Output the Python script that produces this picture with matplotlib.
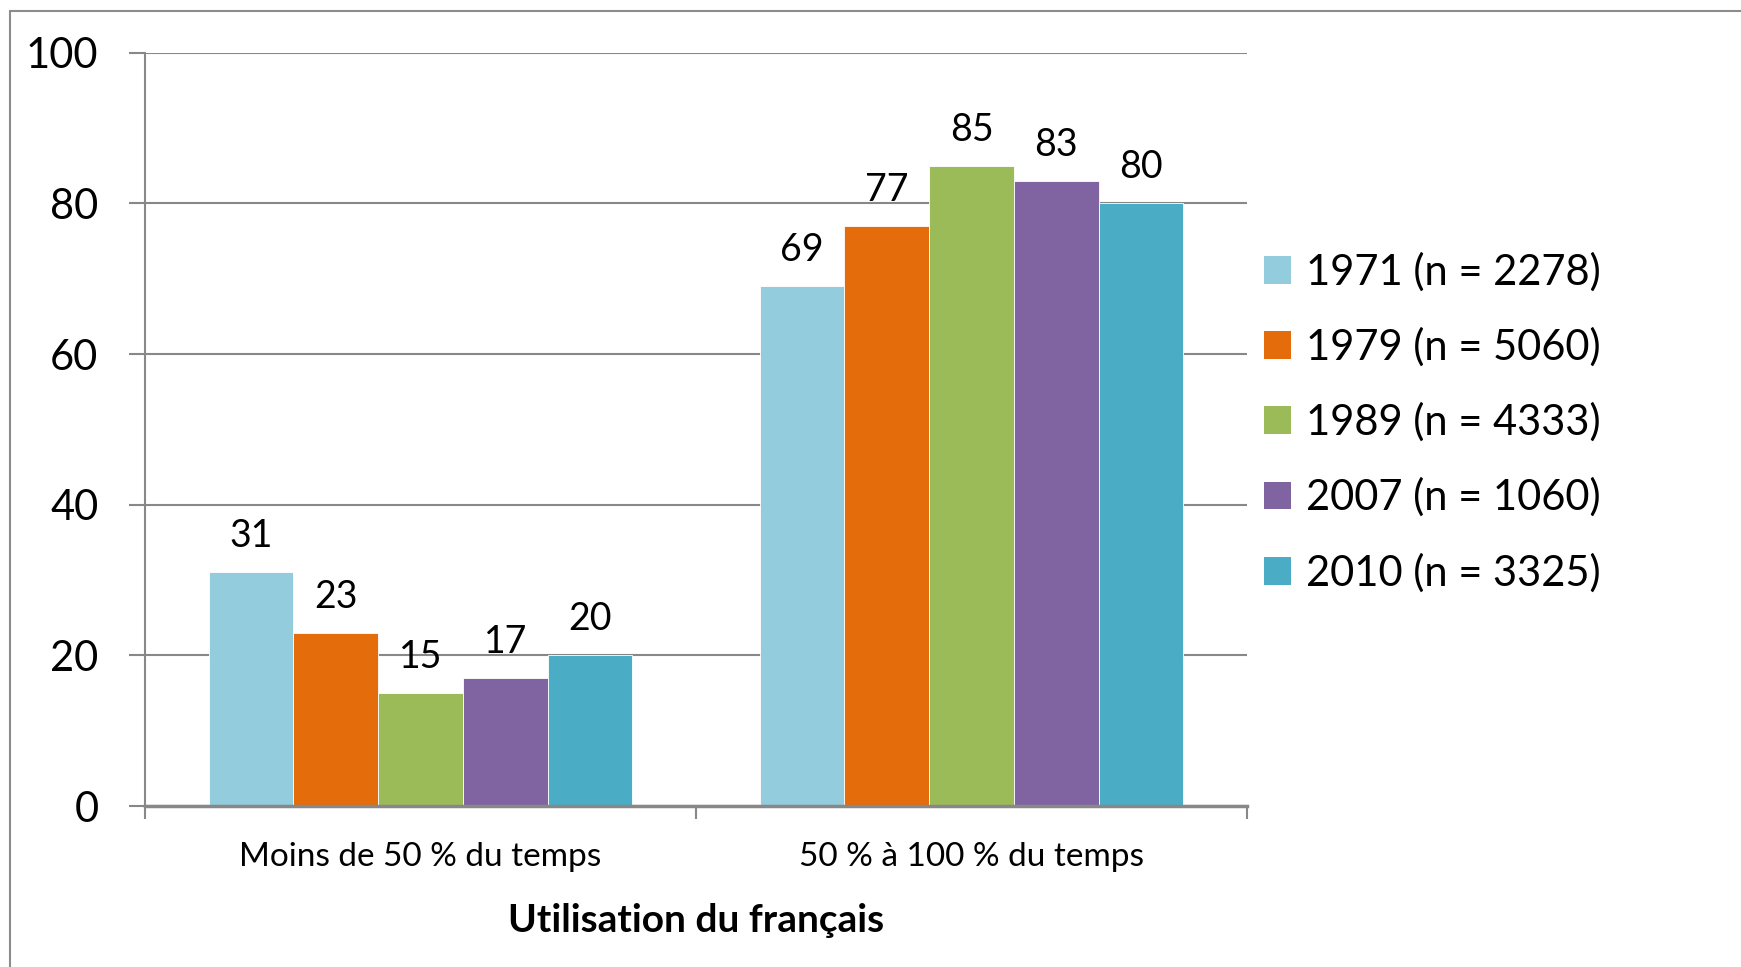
import matplotlib
matplotlib.use("Agg")
import matplotlib.pyplot as plt
import numpy as np
from matplotlib.patches import Patch, Rectangle

categories = ["Moins de 50 % du temps", "50 % à 100 % du temps"]
series_labels = [
    "1971 (n = 2278)",
    "1979 (n = 5060)",
    "1989 (n = 4333)",
    "2007 (n = 1060)",
    "2010 (n = 3325)",
]
values_1971 = [31, 69]
values_1979 = [23, 77]
values_1989 = [15, 85]
values_2007 = [17, 83]
values_2010 = [20, 80]
y_ticks = [0, 20, 40, 60, 80, 100]

series_values = [values_1971, values_1979, values_1989, values_2007, values_2010]
colors = ["#93CDDD", "#E46C0A", "#9BBB59", "#8064A2", "#4BACC6"]
grid_gray = "#888888"

plt.rcParams["font.family"] = ["Lato", "DejaVu Sans"]

W, H = 1741, 967
fig = plt.figure(figsize=(W / 100, H / 100), dpi=100)
ax = fig.add_axes([145 / W, 1 - 806 / H, (1247 - 145) / W, (806 - 52.7) / H])

n = len(series_values)
width = 1 / (n + 1.5)
x = np.arange(len(categories))
for i, (vals, col, lab) in enumerate(zip(series_values, colors, series_labels)):
    pos = x + (i - (n - 1) / 2) * width
    bars = ax.bar(pos, vals, width=width, color=col, label=lab, zorder=3,
                  edgecolor="white", linewidth=0.6)
    for b, v in zip(bars, vals):
        ax.annotate(str(v), (b.get_x() + b.get_width() / 2, v),
                    xytext=(0, 13), textcoords="offset points",
                    ha="center", va="bottom", fontsize=27)

ax.set_xlim(-0.5, len(categories) - 0.5)
ax.set_ylim(0, 100)
ax.set_yticks(y_ticks)
ax.set_yticklabels([str(t) for t in y_ticks], fontsize=30)
ax.yaxis.grid(True, color=grid_gray, linewidth=1.5, zorder=0)
ax.set_axisbelow(True)
ax.tick_params(axis="y", length=11.5, width=1.5, color=grid_gray, pad=22)

ax.set_xticks(x)
ax.set_xticklabels(categories, fontsize=24)
ax.set_xticks(np.arange(-0.5, len(categories)), minor=True)
ax.tick_params(axis="x", which="major", length=0, pad=26)
ax.tick_params(axis="x", which="minor", length=9, width=1.5, color=grid_gray)
ax.set_xlabel("Utilisation du français", fontsize=28, fontweight="bold", labelpad=22)

for side in ["top", "right"]:
    ax.spines[side].set_visible(False)
ax.spines["left"].set_color(grid_gray)
ax.spines["left"].set_linewidth(1.5)
ax.spines["bottom"].set_color(grid_gray)
ax.spines["bottom"].set_linewidth(2.5)
ax.spines["bottom"].set_zorder(4)

handles = [Patch(facecolor=c, edgecolor="none") for c in colors]
fig.legend(handles, series_labels, loc="upper left",
           bbox_to_anchor=(1264 / W, 1 - 252 / H), frameon=False,
           fontsize=30, borderpad=0, borderaxespad=0,
           handlelength=0.65, handleheight=0.65, handletextpad=0.35,
           labelspacing=0.86)

# chart frame (only left and top edges are visible in the original)
fig.patches.append(Rectangle((10 / W, -0.5), 2, 0.5 + 1 - 11 / H,
                             transform=fig.transFigure, fill=False,
                             edgecolor="#8c8c8c", linewidth=1.5))

fig.savefig("out.png", dpi=100)
